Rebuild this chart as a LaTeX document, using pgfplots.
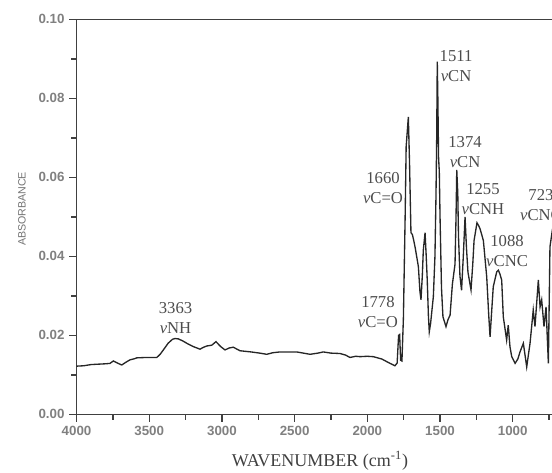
\documentclass[border=0pt]{standalone}
\usepackage{fontspec}
\setmainfont{Liberation Serif}
\newfontfamily\arial{Liberation Sans}
\usepackage{pgfplots}
\usepackage{pgfplotstable}
\pgfplotsset{compat=1.18}
\tikzset{lbl/.style={align=center, font=\fontsize{12.5}{15}\selectfont, text=black!70, inner sep=0pt}}

\pgfplotstableread{
nu A
4000 0.0122
3950 0.0123
3900 0.0126
3850 0.0127
3800 0.0128
3770 0.0129
3747 0.0135
3720 0.0130
3689 0.0125
3660 0.0132
3632 0.0138
3600 0.0141
3586 0.0143
3520 0.0144
3448 0.0144
3425 0.0152
3403 0.0163
3370 0.0180
3340 0.0190
3323 0.0192
3300 0.0191
3270 0.0186
3242 0.0180
3200 0.0172
3151 0.0165
3125 0.0170
3105 0.0173
3070 0.0175
3041 0.0184
3010 0.0172
2979 0.0163
2950 0.0168
2922 0.0170
2876 0.0161
2800 0.0158
2740 0.0155
2692 0.0152
2650 0.0156
2601 0.0158
2540 0.0158
2486 0.0158
2440 0.0155
2394 0.0152
2340 0.0155
2303 0.0158
2250 0.0155
2188 0.0154
2150 0.0150
2119 0.0144
2080 0.0147
2050 0.0146
2000 0.0147
1959 0.0146
1900 0.0140
1844 0.0129
1810 0.0123
1795 0.0130
1785 0.0200
1778 0.0202
1771 0.0137
1762 0.0135
1752 0.0243
1740 0.0500
1733 0.0678
1718 0.0753
1710 0.0640
1700 0.0460
1690 0.0455
1679 0.0437
1670 0.0420
1649 0.0374
1638 0.0310
1631 0.0290
1622 0.0350
1615 0.0416
1603 0.0460
1595 0.0400
1588 0.0340
1580 0.0250
1574 0.0209
1565 0.0230
1546 0.0298
1535 0.0400
1528 0.0550
1523 0.0700
1519 0.0893
1515 0.0800
1510 0.0650
1505 0.0614
1500 0.0500
1490 0.0320
1480 0.0247
1459 0.0222
1445 0.0240
1431 0.0251
1415 0.0330
1397 0.0380
1390 0.0500
1385 0.0619
1378 0.0560
1373 0.0450
1363 0.0350
1352 0.0314
1340 0.0400
1328 0.0500
1318 0.0420
1308 0.0360
1287 0.0315
1275 0.0380
1266 0.0440
1246 0.0485
1235 0.0478
1225 0.0470
1202 0.0440
1179 0.0348
1165 0.0250
1156 0.0196
1145 0.0260
1134 0.0323
1110 0.0361
1099 0.0365
1088 0.0355
1076 0.0340
1065 0.0247
1042 0.0188
1031 0.0226
1019 0.0171
1007 0.0146
984 0.0129
965 0.0140
950 0.0158
927 0.0180
904 0.0120
881 0.0180
859 0.0264
847 0.0222
824 0.0340
812 0.0272
801 0.0290
785 0.0222
771 0.0272
755 0.0129
744 0.0424
730 0.0460
720 0.0440
}\spectrum

\begin{document}
\begin{tikzpicture}
\begin{axis}[
    scale only axis,
    width=356.6pt, height=296.25pt,
    x dir=reverse,
    xmin=730, xmax=4000,
    ymin=0, ymax=0.1,
    axis x line*=box,
    axis y line*=left,
    axis line style={-, line width=1pt, color=black!75},
    xtick={1000,1500,2000,2500,3000,3500,4000},
    minor xtick={750,1250,1750,2250,2750,3250,3750},
    ytick={0,0.02,0.04,0.06,0.08,0.10},
    minor ytick={0.01,0.03,0.05,0.07,0.09},
    xtick pos=left,
    tick align=outside,
    major tick length=5.5pt,
    minor tick length=4pt,
    tick style={line width=1pt, color=black!75},
    /pgf/number format/assume math mode=true,
    xticklabel style={/pgf/number format/1000 sep={}},
    yticklabel style={/pgf/number format/.cd, fixed, fixed zerofill, precision=2},
    ticklabel style={font=\arial\bfseries\fontsize{10}{12}\selectfont, color=black!50},
    xlabel={WAVENUMBER (cm\textsuperscript{-1})},
    xlabel style={at={(axis description cs:0.512,-0.118)}, anchor=center,
                  font=\fontsize{13.5}{15}\selectfont, color=black!75},
    ylabel={ABSORBANCE},
    ylabel style={at={(axis description cs:-0.115,0.52)}, anchor=center,
                  font=\arial\fontsize{8}{10}\selectfont, color=black!55},
]
\addplot[color=black!85, line width=1pt] table[x=nu, y=A] {\spectrum};

\node[lbl] at (axis cs:1390,0.0882) {1511\\\textit{v}CN};
\node[lbl] at (axis cs:1328,0.0665) {1374\\\textit{v}CN};
\node[lbl] at (axis cs:1892,0.0572) {1660\\\textit{v}C=O};
\node[lbl] at (axis cs:1205,0.0545) {1255\\\textit{v}CNH};
\node[lbl] at (axis cs:806,0.0530) {723\\\textit{v}CNC};
\node[lbl] at (axis cs:1039,0.0413) {1088\\\textit{v}CNC};
\node[lbl] at (axis cs:1927,0.0260) {1778\\\textit{v}C=O};
\node[lbl] at (axis cs:3319,0.0245) {3363\\\textit{v}NH};
\end{axis}
\pgfresetboundingbox
\path[use as bounding box] (-57.4pt,-43.3pt) rectangle (356.6pt,310.75pt);
\end{tikzpicture}
\end{document}
